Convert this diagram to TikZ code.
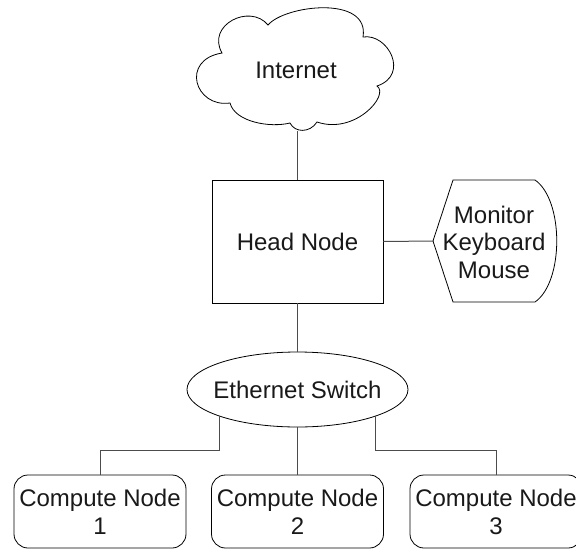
\documentclass[tikz,border=0pt]{standalone}
\usepackage{fontspec}
\setmainfont{Liberation Sans}
\usetikzlibrary{shapes.geometric}
\begin{document}
\begin{tikzpicture}[x=1pt,y=-1pt,
  every node/.style={font=\fontsize{24}{28}\selectfont, text=black!90},
  shp/.style={draw=black, line width=0.8pt},
  conn/.style={draw=black!70, line width=1pt},
  cnode/.style={shp, rounded corners=14pt, minimum width=172pt, minimum height=73pt, inner sep=0pt, align=center}]
\useasboundingbox (0,0) rectangle (576,549);
% cloud outline
\draw[shp] (222,53) .. controls (206,25) and (250,3) .. (268,25)
  .. controls (285,5) and (370,-5) .. (363,37)
  .. controls (388,33) and (410,75) .. (377,86)
  .. controls (390,95) and (355,135) .. (317,122)
  .. controls (310,133) and (295,133) .. (290,123)
  .. controls (270,128) and (235,122) .. (230,103)
  .. controls (195,108) and (180,60) .. cycle;
\node (net) at (296,70) {Internet};
\coordinate (netbot) at (297,131);
\node[shp, minimum width=171pt, minimum height=123pt, inner sep=0pt] (head) at (297.5,241.5) {Head Node};
\draw[shp] (433,241) -- (453,180) -- (535,180) .. controls (564,200) and (564,282) .. (535,302) -- (453,302) -- cycle;
\coordinate (monin) at (433,241);
\node[align=center, font=\fontsize{24}{27.5}\selectfont] (mon) at (494,242) {Monitor\\Keyboard\\Mouse};
\node[shp, ellipse, minimum width=221pt, minimum height=75pt, inner sep=0pt] (sw) at (297.5,389.5) {\makebox[0pt]{Ethernet Switch}};
\node[cnode] (c1) at (100,511.5) {Compute Node\\1};
\node[cnode] (c2) at (297.5,511.5) {Compute Node\\2};
\node[cnode] (c3) at (496,511.5) {Compute Node\\3};
\coordinate (bus) at (0,450);
\draw[conn] (head.north) -- (head.north |- netbot);
\draw[conn] (head.east) -- (monin);
\draw[conn] (head.south) -- (sw.north);
\draw[conn] (sw.south) -- (c2.north);
\draw[conn] (sw.199) -- (sw.199 |- bus) -| (c1.north);
\draw[conn] (sw.341) -- (sw.341 |- bus) -| (c3.north);
\end{tikzpicture}
\end{document}
